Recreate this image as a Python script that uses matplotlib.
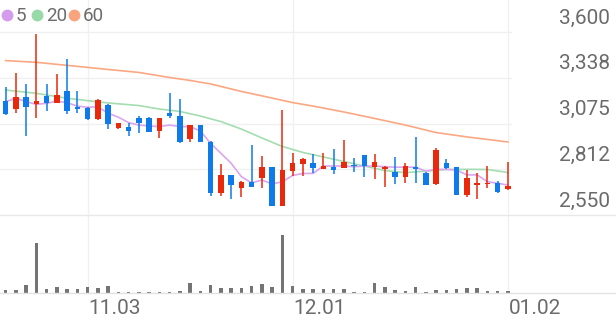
import numpy as np
import matplotlib.pyplot as plt
from matplotlib.lines import Line2D

plt.rcParams['font.family'] = ['Roboto', 'DejaVu Sans']

# daily candles (50 sessions)
opens = [3204, 3158, 3229, 3187, 3235, 3194, 3263, 3170, 3164, 3099,
         3181, 3051, 3053, 3105, 3108, 3030, 3133, 3118, 2988, 3065,
         2971, 2678, 2778, 2707, 2741, 2761, 2824, 2602, 2804, 2843,
         2847, 2816, 2824, 2820, 2837, 2894, 2824, 2812, 2795, 2770,
         2827, 2793, 2728, 2850, 2827, 2663, 2724, 2726, 2732, 2699]
highs = [3283, 3366, 3302, 3589, 3302, 3357, 3443, 3263, 3168, 3215,
         3187, 3078, 3076, 3118, 3112, 3107, 3248, 3214, 3068, 3066,
         2975, 2843, 2780, 2743, 2952, 2890, 2826, 3152, 2907, 2877,
         2900, 2904, 2929, 2980, 2875, 2897, 2900, 2831, 2885, 2850,
         2999, 2798, 2933, 2870, 2828, 2808, 2793, 2833, 2747, 2856]
lows = [3124, 3133, 3003, 3105, 3148, 3191, 3130, 3133, 3095, 3095,
        3042, 3042, 3003, 3022, 3026, 2990, 3105, 2965, 2969, 2966,
        2661, 2661, 2640, 2655, 2711, 2703, 2599, 2599, 2774, 2776,
        2793, 2812, 2785, 2817, 2798, 2770, 2758, 2712, 2728, 2735,
        2735, 2722, 2722, 2812, 2662, 2652, 2640, 2703, 2678, 2696]
closes = [3128, 3229, 3171, 3204, 3194, 3237, 3148, 3156, 3099, 3212,
          3070, 3076, 3030, 3076, 3028, 3105, 3118, 2969, 3065, 2969,
          2675, 2778, 2720, 2741, 2712, 2824, 2602, 2808, 2847, 2870,
          2821, 2831, 2808, 2856, 2829, 2833, 2852, 2827, 2768, 2833,
          2812, 2724, 2923, 2821, 2665, 2761, 2735, 2732, 2684, 2716]
# volume, thousand shares
volumes = [30, 30, 80, 500, 37, 63, 37, 40, 63, 47,
           70, 13, 13, 13, 13, 13, 13, 23, 103, 20,
           77, 53, 47, 47, 67, 90, 63, 580, 73, 40,
           40, 40, 40, 40, 13, 13, 103, 63, 30, 23,
           57, 13, 30, 30, 40, 47, 53, 20, 20, 17]

ma5 = [3200, 3220, 3200, 3185, 3191, 3204, 3194, 3175, 3168, 3171,
       3134, 3111, 3080, 3066, 3061, 3057, 3066, 3057, 3057, 3032,
       2961, 2904, 2847, 2770, 2734, 2751, 2728, 2741, 2777, 2788,
       2789, 2831, 2831, 2831, 2827, 2831, 2831, 2827, 2824, 2825,
       2824, 2802, 2812, 2812, 2808, 2780, 2780, 2741, 2732, 2722]
ma20_idx = [0, 3, 6, 8, 10, 13, 15, 17, 19, 21, 23, 25, 27, 29, 31, 33, 35, 37, 39, 41, 43, 45, 47, 49]
ma20 = [3267, 3248, 3220, 3206, 3193, 3178, 3158, 3144, 3118, 3086, 3043, 2992,
        2943, 2909, 2883, 2857, 2831, 2805, 2793, 2802, 2811, 2812, 2811, 2794]
ma60_idx = [0, 3, 8, 10, 13, 16, 18, 20, 23, 26, 28, 30, 33, 36, 39, 42, 45, 49]
ma60 = [3436, 3426, 3397, 3385, 3368, 3339, 3322, 3302, 3259, 3221, 3195, 3175,
        3141, 3104, 3066, 3023, 2998, 2969]

tick_pos = [8, 28, 49]
tick_labels = ['11.03', '12.01', '01.02']
price_labels = ['3,600', '3,338', '3,075', '2,812', '2,550']

RED = '#e8290b'
BLUE = '#0f7ae9'
GRID = '#f0f0f0'
TXT = '#6b6b6b'
W, H = 616, 321

fig = plt.figure(figsize=(W / 100, H / 100), dpi=100)

ax = fig.add_axes([0, (H - 215) / H, 512 / W, 215 / H])
vax = fig.add_axes([0, (H - 293) / H, 512 / W, 78 / H])
for a in (ax, vax):
    a.set_xlim(-0.55, 49.4)
    a.set_axis_off()
    for p in tick_pos:
        a.axvline(p, color=GRID, lw=1, zorder=0)

ax.set_ylim(2550, 3600 + 32 * 1050 / 183)
grid_prices = np.linspace(3600, 2550, 5)
for p, lab in zip(grid_prices, price_labels):
    if p > 2550:
        ax.axhline(p, color=GRID, lw=1, zorder=0)
    ax.annotate(lab, xy=(1, p), xycoords=('axes fraction', 'data'),
                xytext=(98, 14), textcoords='offset pixels',
                ha='right', va='center', fontsize=15, color=TXT,
                annotation_clip=False)

ax.plot(ma60_idx, ma60, color='#fba882', lw=1.2, zorder=2)
ax.plot(ma20_idx, ma20, color='#a3ddb0', lw=1.2, zorder=2)
ax.plot(range(len(ma5)), ma5, color='#dba6f0', lw=1.2, zorder=2)

x = np.arange(len(opens))
for i, o, h, l, c in zip(x, opens, highs, lows, closes):
    col = RED if c >= o else BLUE
    ax.vlines(i, l, h, color=col, lw=1.1, zorder=3)
    ax.bar(i, max(abs(c - o), 4), bottom=min(o, c), width=0.54, color=col, zorder=4)

vax.set_ylim(0, max(volumes) * 78 / 58)
vax.bar(x, volumes, width=0.36, color='#747474')

for i, lab in zip(tick_pos, tick_labels):
    vax.annotate(lab, xy=(i, 0), xycoords='data', xytext=(1, -16),
                 textcoords='offset pixels', ha='left', va='center',
                 fontsize=15, color=TXT, annotation_clip=False)

fig.add_artist(Line2D([0, 1], [(H - 215) / H] * 2, color='#e8e8e8', lw=1,
                      transform=fig.transFigure))
fig.add_artist(Line2D([0, 1], [(H - 293) / H] * 2, color='#e2e2e2', lw=1,
                      transform=fig.transFigure))

# legend
for cx, tx, col, lab in [(7, 16, '#d49cec', '5'), (37, 46, '#97d9a7', '20'),
                         (74, 83, '#f9a47e', '60')]:
    fig.add_artist(Line2D([cx / W], [1 - 15 / H], marker='o', ms=7.5, color=col,
                          transform=fig.transFigure))
    fig.text(tx / W, 1 - 16 / H, lab, ha='left', va='center', fontsize=13.5, color=TXT)

fig.savefig('out.png', dpi=100)
